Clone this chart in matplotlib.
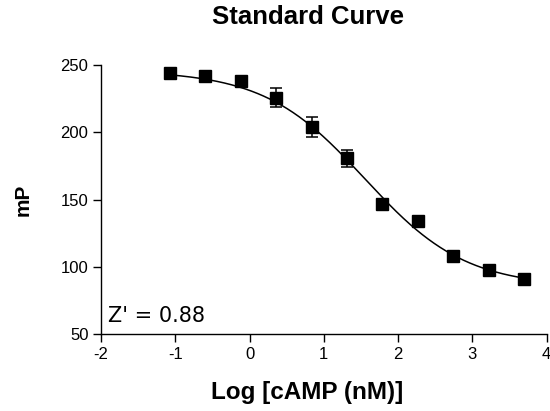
import numpy as np
import matplotlib
matplotlib.use("Agg")
import matplotlib.pyplot as plt

# Data
log_camp = [-1.073, -0.596, -0.119, 0.358, 0.835, 1.312, 1.789, 2.266, 2.743, 3.220, 3.697]
mp_values = [243.8, 241.8, 238.3, 225.7, 203.7, 180.6, 146.7, 134.2, 108.0, 97.8, 90.9]
mp_errors = [0, 0, 0, 7.0, 7.3, 6.5, 0, 0, 0, 0, 0]

# Four-parameter logistic fit parameters (estimated from the curve)
fit_top = 246.0
fit_bottom = 85.0
fit_log_ec50 = 1.55
fit_hill = 0.64

xticks = [-2, -1, 0, 1, 2, 3, 4]
yticks = [50, 100, 150, 200, 250]

plt.rcParams['font.family'] = ['Liberation Sans', 'DejaVu Sans']
plt.rcParams['axes.unicode_minus'] = False

fig = plt.figure(figsize=(5.5, 4.11), dpi=100)
ax = fig.add_axes([0.1836, 0.1873, 0.994 - 0.1836, 0.8418 - 0.1873])

xfit = np.linspace(log_camp[0], log_camp[-1], 300)
yfit = fit_bottom + (fit_top - fit_bottom) / (1 + 10 ** ((xfit - fit_log_ec50) * fit_hill))
ax.plot(xfit, yfit, color='black', lw=1.1, zorder=2)

ax.errorbar(log_camp, mp_values, yerr=mp_errors, fmt='s', color='black',
            ms=8.3, elinewidth=1.1, capsize=4.3, capthick=1.1, zorder=3)

ax.set_xlim(-2, 4)
ax.set_ylim(50, 250)
ax.set_xticks(xticks)
ax.set_yticks(yticks)
ax.tick_params(direction='out', length=6, width=1, labelsize=12, pad=3)
for s in ['top', 'right']:
    ax.spines[s].set_visible(False)
for s in ['left', 'bottom']:
    ax.spines[s].set_linewidth(1)

ax.set_xlabel('Log [cAMP (nM)]', fontsize=17.5, fontweight='bold')
ax.xaxis.set_label_coords(0.462, -0.175)
ax.set_ylabel('mP', fontsize=15, fontweight='bold', labelpad=20)
fig.text(0.56, 0.959, 'Standard Curve', fontsize=18.5, fontweight='bold',
         ha='center', va='center')
ax.text(108 / 550, 1 - 322 / 411, "Z' = 0.88", transform=fig.transFigure,
        fontsize=15, family='DejaVu Sans', ha='left', va='baseline')

fig.savefig('out.png', dpi=100)
